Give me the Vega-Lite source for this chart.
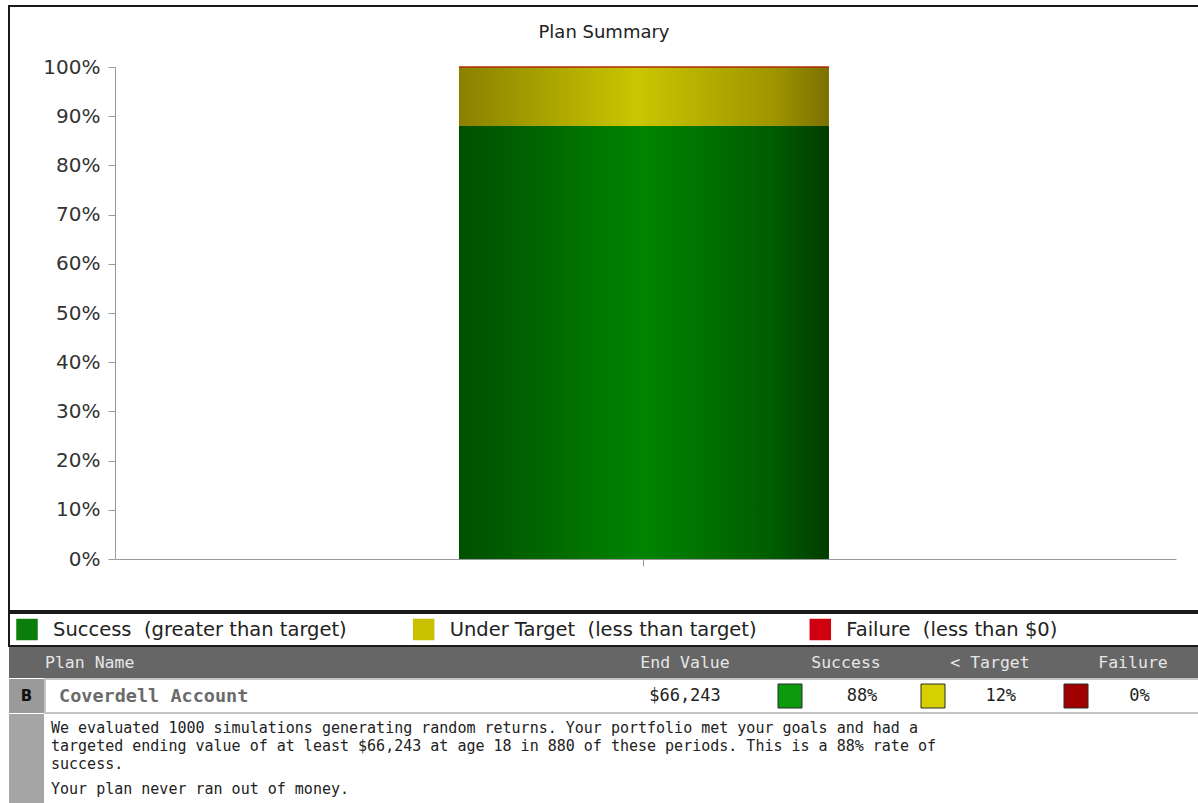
{
  "$schema": "https://vega.github.io/schema/vega-lite/v6.json",
  "padding": {"left": 8, "top": 5, "right": 0, "bottom": 0},
  "background": "white",
  "spacing": 0,
  "config": {
    "view": {"stroke": null},
    "concat": {"spacing": 0},
    "font": "DejaVu Sans"
  },
  "resolve": {"scale": {"x": "independent", "y": "independent", "color": "independent", "fill": "independent"}},
  "datasets": {
    "outcomes": [
      {"plan": "Coverdell Account", "outcome": "Success", "legend": "Success\u00a0 (greater than target)", "share": 0.88, "order": 1},
      {"plan": "Coverdell Account", "outcome": "Under Target", "legend": "Under Target\u00a0 (less than target)", "share": 0.12, "order": 2},
      {"plan": "Coverdell Account", "outcome": "Failure", "legend": "Failure\u00a0 (less than $0)", "share": 0.0, "order": 3}
    ],
    "plans": [
      {"marker": "B", "plan": "Coverdell Account", "endValue": 66243}
    ],
    "columns": [
      {"col": 0, "label": "Plan Name"},
      {"col": 1, "label": "End Value"},
      {"col": 2, "label": "Success"},
      {"col": 3, "label": "< Target"},
      {"col": 4, "label": "Failure"}
    ],
    "notes": [
      {"para": 1, "text": "We evaluated 1000 simulations generating random returns. Your portfolio met your goals and had a\ntargeted ending value of at least $66,243 at age 18 in 880 of these periods. This is a 88% rate of\nsuccess."},
      {"para": 2, "text": "Your plan never ran out of money."}
    ]
  },
  "vconcat": [
    {
      "width": 1190,
      "height": 605,
      "view": {"stroke": "#1a1a1a", "strokeWidth": 2, "fill": "white"},
      "title": {"text": "Plan Summary", "anchor": "middle", "frame": "group", "offset": -36, "font": "DejaVu Sans", "fontSize": 18, "fontWeight": "normal", "color": "#222222"},
      "data": {"name": "outcomes"},
      "transform": [
        {"stack": "share", "groupby": ["plan"], "sort": [{"field": "order", "order": "ascending"}], "as": ["lo", "hi"]}
      ],
      "encoding": {
        "x": {
          "field": "plan", "type": "nominal",
          "scale": {"range": [106, 1167], "paddingInner": 0, "paddingOuter": 0.9338, "align": 0.4978},
          "axis": {"orient": "bottom", "offset": -52, "labels": false, "title": null, "ticks": true, "tickSize": 7, "domainColor": "#999999", "tickColor": "#999999", "grid": false}
        },
        "y": {
          "field": "lo", "type": "quantitative",
          "scale": {"domain": [0, 1], "range": [553, 61], "nice": false, "zero": false},
          "axis": {"orient": "left", "offset": -106, "values": [0, 0.1, 0.2, 0.3, 0.4, 0.5, 0.6, 0.7, 0.8, 0.9, 1], "format": ".0%", "title": null, "grid": false, "domainColor": "#999999", "tickColor": "#999999", "tickSize": 7, "labelPadding": 8, "labelFont": "DejaVu Sans", "labelFontSize": 20, "labelColor": "#333333"}
        },
        "y2": {"field": "hi"}
      },
      "layer": [
        {
          "transform": [{"filter": "datum.outcome === 'Success'"}],
          "mark": {
            "type": "bar",
            "color": {"gradient": "linear", "x1": 0, "x2": 1, "y1": 0, "y2": 0,
              "stops": [
                {"offset": 0, "color": "#004f00"},
                {"offset": 0.5, "color": "#008400"},
                {"offset": 0.85, "color": "#005c00"},
                {"offset": 1, "color": "#003c00"}
              ]}
          }
        },
        {
          "transform": [{"filter": "datum.outcome === 'Under Target'"}],
          "mark": {
            "type": "bar",
            "color": {"gradient": "linear", "x1": 0, "x2": 1, "y1": 0, "y2": 0,
              "stops": [
                {"offset": 0, "color": "#8a8100"},
                {"offset": 0.48, "color": "#cac600"},
                {"offset": 0.85, "color": "#9f9500"},
                {"offset": 1, "color": "#7a7100"}
              ]}
          }
        },
        {
          "transform": [{"filter": "datum.outcome === 'Failure'"}],
          "mark": {"type": "bar", "color": "#b02a00", "stroke": "#b02a00", "strokeWidth": 1.5}
        }
      ]
    },
    {
      "width": 1190,
      "height": 33,
      "view": {"stroke": "#1a1a1a", "strokeWidth": 2, "fill": "white"},
      "data": {"name": "outcomes"},
      "resolve": {"scale": {"x": "independent"}},
      "layer": [
        {
          "mark": {"type": "square", "size": 462, "opacity": 1},
          "encoding": {
            "x": {"field": "outcome", "type": "nominal",
              "scale": {"type": "point", "domain": ["Success", "Under Target", "Failure"], "range": [18, 811.3], "padding": 0}, "axis": null},
            "color": {"field": "outcome", "type": "nominal",
              "scale": {"domain": ["Success", "Under Target", "Failure"], "range": ["#0b7d0b", "#c8c000", "#d00010"]}, "legend": null}
          }
        },
        {
          "mark": {"type": "text", "align": "left", "baseline": "middle", "font": "DejaVu Sans", "fontSize": 19.5, "color": "#222222"},
          "encoding": {
            "x": {"field": "outcome", "type": "nominal",
              "scale": {"type": "point", "domain": ["Success", "Under Target", "Failure"], "range": [44, 837.3], "padding": 0}, "axis": null},
            "text": {"field": "legend"}
          }
        }
      ]
    },
    {
      "width": 1190,
      "height": 31,
      "view": {"fill": "#666666", "stroke": null},
      "data": {"name": "columns"},
      "encoding": {
        "x": {"field": "col", "type": "quantitative",
          "scale": {"domain": [0, 1, 2, 3, 4], "range": [36, 676, 837, 981, 1124], "nice": false, "zero": false}, "axis": null},
        "text": {"field": "label"}
      },
      "layer": [
        {
          "transform": [{"filter": "datum.col === 0"}],
          "mark": {"type": "text", "align": "left", "baseline": "middle", "font": "DejaVu Sans Mono", "fontSize": 16.5, "color": "#e6e6e6"}
        },
        {
          "transform": [{"filter": "datum.col > 0"}],
          "mark": {"type": "text", "align": "center", "baseline": "middle", "font": "DejaVu Sans Mono", "fontSize": 16.5, "color": "#e6e6e6"}
        }
      ]
    },
    {
      "spacing": 0,
      "hconcat": [
        {
          "width": 35,
          "height": 34,
          "view": {"fill": "#9a9a9a", "stroke": null},
          "data": {"name": "plans"},
          "mark": {"type": "text", "align": "center", "baseline": "middle", "font": "DejaVu Sans", "fontWeight": "bold", "fontSize": 15, "color": "#111111"},
          "encoding": {"text": {"field": "marker"}}
        },
        {
          "width": 1155,
          "height": 34,
          "view": {"fill": "white", "stroke": "#c4c4c4", "strokeWidth": 2},
          "resolve": {"scale": {"x": "independent"}},
          "layer": [
            {
              "data": {"name": "plans"},
              "mark": {"type": "text", "align": "left", "baseline": "middle", "font": "DejaVu Sans Mono", "fontWeight": "bold", "fontSize": 18.5, "color": "#6b6b6b"},
              "encoding": {
                "x": {"datum": 0, "type": "quantitative", "scale": {"domain": [0, 1], "range": [14, 640], "nice": false, "zero": false}, "axis": null},
                "text": {"field": "plan"}
              }
            },
            {
              "data": {"name": "plans"},
              "mark": {"type": "text", "align": "center", "baseline": "middle", "font": "DejaVu Sans Mono", "fontSize": 17, "color": "#222222"},
              "encoding": {
                "x": {"datum": 1, "type": "quantitative", "scale": {"domain": [0, 1], "range": [14, 640], "nice": false, "zero": false}, "axis": null},
                "text": {"field": "endValue", "type": "quantitative", "format": "$,.0f"}
              }
            },
            {
              "data": {"name": "outcomes"},
              "mark": {"type": "square", "size": 576, "opacity": 1, "stroke": "#2a2a2a", "strokeWidth": 1},
              "encoding": {
                "x": {"field": "outcome", "type": "nominal",
                  "scale": {"type": "point", "domain": ["Success", "Under Target", "Failure"], "range": [745, 1031], "padding": 0}, "axis": null},
                "fill": {"field": "outcome", "type": "nominal",
                  "scale": {"domain": ["Success", "Under Target", "Failure"], "range": ["#0a9a0a", "#d6d000", "#a00000"]}, "legend": null}
              }
            },
            {
              "data": {"name": "outcomes"},
              "mark": {"type": "text", "align": "center", "baseline": "middle", "font": "DejaVu Sans Mono", "fontSize": 17, "color": "#222222"},
              "encoding": {
                "x": {"field": "outcome", "type": "nominal",
                  "scale": {"type": "point", "domain": ["Success", "Under Target", "Failure"], "range": [817, 1094.5], "padding": 0}, "axis": null},
                "text": {"field": "share", "type": "quantitative", "format": ".0%"}
              }
            }
          ]
        }
      ]
    },
    {
      "spacing": 0,
      "hconcat": [
        {
          "width": 35,
          "height": 95,
          "view": {"fill": "#a5a5a5", "stroke": null},
          "data": {"name": "plans"},
          "mark": {"type": "text", "align": "center", "baseline": "middle", "fontSize": 1, "opacity": 0},
          "encoding": {"text": {"field": "marker"}}
        },
        {
          "width": 1155,
          "height": 95,
          "view": {"fill": "white", "stroke": null},
          "data": {"name": "notes"},
          "mark": {"type": "text", "align": "left", "baseline": "top", "lineBreak": "\n", "lineHeight": 17.8, "font": "DejaVu Sans Mono", "fontSize": 15, "color": "#222222"},
          "encoding": {
            "x": {"datum": 0, "type": "quantitative", "scale": {"domain": [0, 1], "range": [7, 1155], "nice": false, "zero": false}, "axis": null},
            "y": {"field": "para", "type": "quantitative", "scale": {"domain": [1, 2], "range": [7, 68], "nice": false, "zero": false}, "axis": null},
            "text": {"field": "text"}
          }
        }
      ]
    }
  ]
}
